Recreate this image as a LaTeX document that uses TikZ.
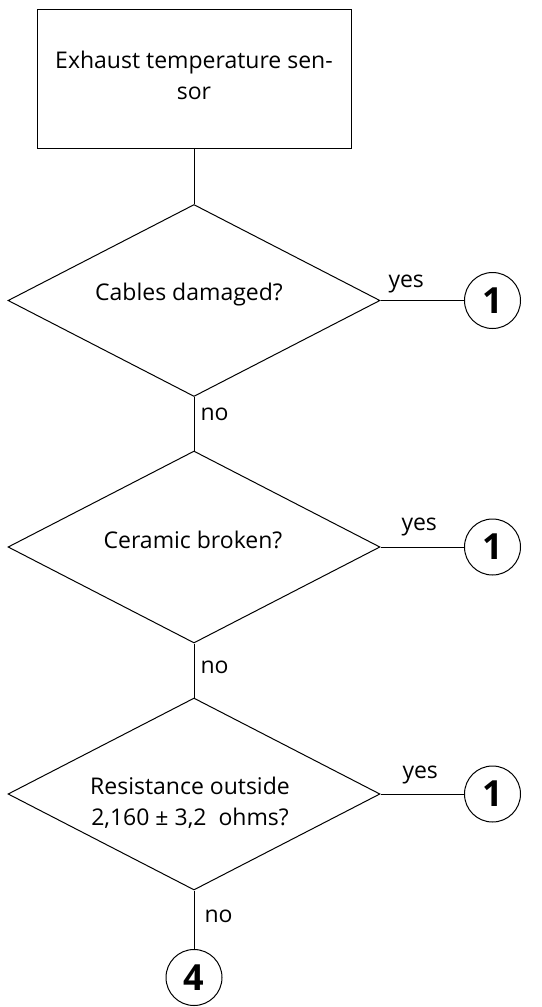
\documentclass[tikz,border=0pt]{standalone}
\usepackage{fontspec}
\setmainfont{Open Sans}
\usetikzlibrary{shapes.geometric}
\begin{document}
\begin{tikzpicture}[x=1pt,y=-1pt,
  line width=1pt,
  txt/.style={font=\fontsize{23}{31}\selectfont, inner sep=0pt},
  boxnode/.style={draw, rectangle, minimum width=314pt, minimum height=139pt, inner sep=0pt},
  decision/.style={draw, diamond, minimum width=372pt, minimum height=192pt, inner sep=0pt},
  conn/.style={draw, circle, minimum size=56pt, inner sep=0pt, font=\bfseries\fontsize{36}{36}\selectfont}
]
\useasboundingbox (0,0) rectangle (541,1007);
\node[boxnode] (box) at (194,78.5) {};
\node[txt, align=center, anchor=center] (boxtxt) at (194,75) {Exhaust temperature sen-\\sor};

\node[decision] (d1) at (194,300.5) {};
\node[txt, anchor=base] (t1) at (189,300) {Cables damaged?};
\node[decision] (d2) at (194,547) {};
\node[txt, anchor=base] (t2) at (193,548) {Ceramic broken?};
\node[decision] (d3) at (194,794) {};
\node[txt, align=center, anchor=center] (t3) at (190,803) {Resistance outside\\2,160 ± 3,2~ ohms?};

\node[conn] (c1) at (492.5,300.5) {1};
\node[conn] (c2) at (492.5,547) {1};
\node[conn] (c3) at (492.5,794) {1};
\node[conn] (c4) at (194,977.5) {4};

\draw (box.south) -- (d1.north);
\draw (d1.south) -- (d2.north);
\draw (d2.south) -- (d3.north);
\draw (d3.south) -- (c4.north);
\draw (d1.east) -- (c1.west);
\draw (d2.east) -- (c2.west);
\draw (d3.east) -- (c3.west);

\node[txt, anchor=base west] (y1) at (388,287) {yes};
\node[txt, anchor=base west] (y2) at (401,530) {yes};
\node[txt, anchor=base west] (y3) at (402,778) {yes};
\node[txt, anchor=base west] (n1) at (200,420) {no};
\node[txt, anchor=base west] (n2) at (200,673) {no};
\node[txt, anchor=base west] (n3) at (204,922) {no};
\end{tikzpicture}
\end{document}
